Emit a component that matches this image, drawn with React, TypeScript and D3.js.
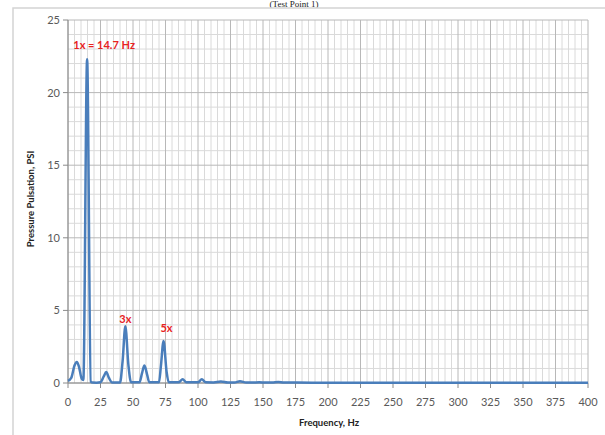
import React from "react";
import * as d3 from "d3";

// spectrum samples
const freqHz = [0, 2.5, 5, 6.8, 8.5, 10.5, 11.8, 14.7, 17.5, 19, 22, 25, 27.5, 29.4, 31.5, 34, 40, 42, 44.1, 46.5, 48.5, 55, 57, 58.8, 60.8, 62.5, 70, 71.5, 73.5, 75.8, 77.5, 85, 88.2, 91, 100, 102.9, 106, 112, 117.6, 123, 128, 132.3, 137, 142, 147, 152, 157, 161.7, 166, 176, 200, 250, 300, 350, 400];
const psi = [0.15, 0.35, 1.2, 1.45, 1.1, 0.3, 0.2, 22.3, 0.1, 0.03, 0.02, 0.05, 0.45, 0.75, 0.35, 0.03, 0.03, 1.5, 3.9, 1.2, 0.05, 0.05, 0.7, 1.2, 0.6, 0.05, 0.05, 1.2, 2.9, 0.8, 0.05, 0.05, 0.25, 0.05, 0.05, 0.25, 0.05, 0.04, 0.1, 0.03, 0.03, 0.12, 0.03, 0.03, 0.05, 0.03, 0.03, 0.07, 0.03, 0.03, 0.02, 0.02, 0.02, 0.02, 0.02];

const xTicks = d3.range(0, 401, 25);
const yTicks = [0, 5, 10, 15, 20, 25];

const annotations = [
  { label: "1x = 14.7 Hz", f: 14.7, v: 22.3, dx: 17, dy: -10 },
  { label: "3x", f: 44.1, v: 3.9, dx: 0, dy: -3 },
  { label: "5x", f: 73.5, v: 2.9, dx: 3, dy: -9 },
];

const font = "Lato, 'Open Sans', sans-serif";

const App = () => {
  const W = 605;
  const H = 435;
  const x = d3.scaleLinear().domain([0, 400]).range([68, 588]);
  const y = d3.scaleLinear().domain([0, 25]).range([383, 20]);

  const pts = freqHz.map((f, i) => [f, psi[i]] as [number, number]);
  const line = d3
    .line<[number, number]>()
    .x((d) => x(d[0]))
    .y((d) => y(d[1]))
    .curve(d3.curveMonotoneX);

  const minorX = d3.range(0, 401, 5).filter((v) => v % 25 !== 0);
  const minorY = d3.range(0, 26, 1).filter((v) => v % 5 !== 0);

  return (
    <svg width={W} height={H} style={{ position: "absolute", left: 0, top: 0 }}>
      <rect width={W} height={H} fill="white" />
      {/* caption above the chart (mostly cropped in the source) */}
      <text x={294} y={7} textAnchor="middle" fontFamily="'Liberation Serif', serif" fontSize={9} fill="#222">
        (Test Point 1)
      </text>
      {/* chart area frame */}
      <rect x={13} y={8} width={W + 10} height={H + 10} fill="white" stroke="#d4d4d4" strokeWidth={1.5} />

      {/* minor grid */}
      {minorX.map((v) => (
        <line key={"mx" + v} x1={x(v)} x2={x(v)} y1={y(25)} y2={y(0)} stroke="#dadada" strokeWidth={1} />
      ))}
      {minorY.map((v) => (
        <line key={"my" + v} x1={x(0)} x2={x(400)} y1={y(v)} y2={y(v)} stroke="#dadada" strokeWidth={1} />
      ))}
      {/* major grid */}
      {xTicks.map((v) => (
        <line key={"Mx" + v} x1={x(v)} x2={x(v)} y1={y(25)} y2={y(0)} stroke="#b8b8b8" strokeWidth={1} />
      ))}
      {yTicks.map((v) => (
        <line key={"My" + v} x1={x(0)} x2={x(400)} y1={y(v)} y2={y(v)} stroke="#b8b8b8" strokeWidth={1} />
      ))}

      {/* axes */}
      <line x1={x(0)} x2={x(0)} y1={y(25)} y2={y(0)} stroke="#8a8a8a" />
      <line x1={x(0)} x2={x(400)} y1={y(0)} y2={y(0)} stroke="#8a8a8a" />
      {xTicks.map((v) => (
        <g key={"xt" + v}>
          <line x1={x(v)} x2={x(v)} y1={y(0)} y2={y(0) + 5} stroke="#8a8a8a" />
          <text x={x(v)} y={406} textAnchor="middle" fontFamily={font} fontSize={11} fill="#595959">
            {v}
          </text>
        </g>
      ))}
      {yTicks.map((v) => (
        <g key={"yt" + v}>
          <line x1={x(0) - 5} x2={x(0)} y1={y(v)} y2={y(v)} stroke="#8a8a8a" />
          <text x={60} y={y(v) + 4} textAnchor="end" fontFamily={font} fontSize={11} fill="#595959">
            {v}
          </text>
        </g>
      ))}

      {/* spectrum */}
      <path d={line(pts) ?? ""} fill="none" stroke="#4a7ebb" strokeWidth={2.5} strokeLinejoin="round" />

      {annotations.map((a) => (
        <text
          key={a.label}
          x={x(a.f) + a.dx}
          y={y(a.v) + a.dy}
          textAnchor="middle"
          fontFamily={font}
          fontSize={11}
          fontWeight="bold"
          fill="#e8231f"
        >
          {a.label}
        </text>
      ))}

      {/* axis titles */}
      <text x={329} y={426} textAnchor="middle" fontFamily={font} fontSize={9.5} fontWeight="bold" fill="#222">
        Frequency, Hz
      </text>
      <text
        transform={`translate(34,${199}) rotate(-90)`}
        textAnchor="middle"
        fontFamily={font}
        fontSize={9.5}
        fontWeight="bold"
        fill="#222"
      >
        Pressure Pulsation, PSI
      </text>
    </svg>
  );
};

export default App;
